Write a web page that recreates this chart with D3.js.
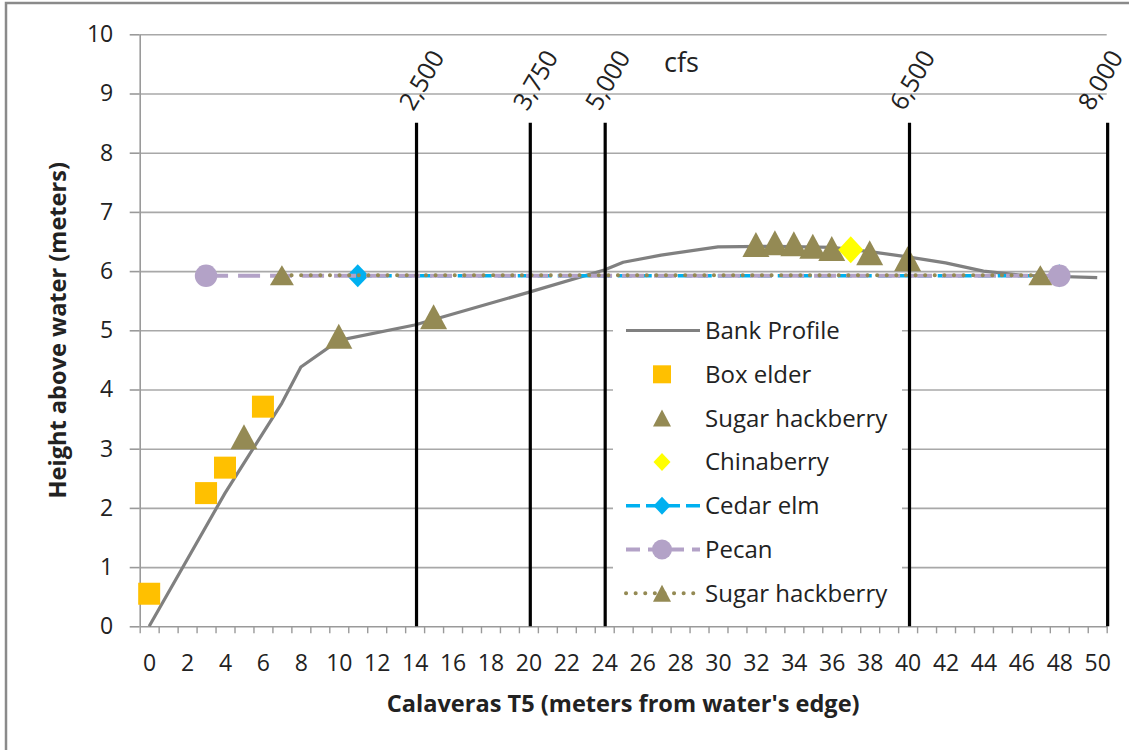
<!DOCTYPE html>
<html><head><meta charset="utf-8">
<script src="https://cdn.jsdelivr.net/npm/d3@7"></script>
<style>
body{margin:0;background:#fff}
svg{display:block}
text{font-family:"Open Sans",sans-serif;fill:#222}
</style>
</head><body>
<svg id="c" width="1129" height="750"></svg>
<script>
// ---------------- data ----------------
const bankX = [0, 4, 7, 8, 10, 14, 20, 24, 25, 27, 30, 33, 36, 38, 40, 42, 44, 46, 50];
const bankY = [0, 2.25, 3.77, 4.38, 4.83, 5.09, 5.64, 6.02, 6.15, 6.27, 6.41, 6.42, 6.4, 6.33, 6.24, 6.14, 6.0, 5.93, 5.89];
const boxElderX = [0, 3, 4, 6];
const boxElderY = [0.55, 2.25, 2.68, 3.71];
const hackberryX = [5, 10, 15, 32, 33, 34, 35, 36, 38, 40];
const hackberryY = [3.2, 4.9, 5.23, 6.45, 6.48, 6.46, 6.42, 6.38, 6.31, 6.21];
const chinaberryX = [37];
const chinaberryY = [6.36];
const cedarElmX = [11, 48];
const cedarElmY = [5.92, 5.92];
const pecanX = [3, 48];
const pecanY = [5.92, 5.92];
const hackberry2X = [7, 47];
const hackberry2Y = [5.93, 5.93];
const flowX = [14.1, 20.1, 24.05, 40.1, 50.55];
const flowLabels = ["2,500", "3,750", "5,000", "6,500", "8,000"];
const flowUnit = "cfs";
const yTicks = [0, 1, 2, 3, 4, 5, 6, 7, 8, 9, 10];
const xTickLabels = d3.range(0, 51, 2);
const legendNames = ["Bank Profile", "Box elder", "Sugar hackberry", "Chinaberry", "Cedar elm", "Pecan", "Sugar hackberry"];
const xTitle = "Calaveras T5 (meters from water's edge)";
const yTitle = "Height above water (meters)";

// ---------------- drawing ----------------
const svg = d3.select("#c");
const zip = (a, b) => a.map((v, i) => [v, b[i]]);

svg.append("rect").attr("x", 0).attr("y", 0).attr("width", 1129).attr("height", 750).attr("fill", "#fff");
svg.append("rect").attr("x", 6).attr("y", 3).attr("width", 1300).attr("height", 900)
  .attr("fill", "none").attr("stroke", "#8a8a8a").attr("stroke-width", 2.5);

const L = 139.7, R = 1106.7, T = 34.3, B = 626.3;
const x = d3.scaleLinear().domain([-0.5, 50.5]).range([L, R]);
const y = d3.scaleLinear().domain([0, 10]).range([B, T]);

const C = {
  bank: "#808080", box: "#FFC000", hack: "#948A54", china: "#FFFF00",
  cedar: "#00B0F0", pecan: "#B3A2C7", grid: "#A8A8A8", axis: "#9a9a9a"
};

// gridlines
const grid = svg.append("g").attr("transform", `translate(${L},0)`)
  .call(d3.axisLeft(y).tickValues(yTicks.slice(1)).tickSize(-(R - L)).tickFormat(""));
grid.select(".domain").remove();
grid.selectAll("line").attr("stroke", C.grid).attr("stroke-width", 1.6);

// y axis
const ya = svg.append("g").attr("transform", `translate(${L},0)`)
  .call(d3.axisLeft(y).tickValues(yTicks).tickSize(10).tickPadding(16.5).tickSizeOuter(0));
ya.select(".domain").attr("stroke", C.axis).attr("stroke-width", 1.6);
ya.selectAll("line").attr("stroke", C.axis).attr("stroke-width", 1.6);
ya.selectAll("text").attr("font-size", 23).attr("font-family", "Open Sans").attr("fill", "#1a1a1a");

// x axis (minor ticks at category boundaries)
const xa = svg.append("g").attr("transform", `translate(0,${B})`)
  .call(d3.axisBottom(x).tickValues(d3.range(-0.5, 50.6, 1)).tickSize(7).tickFormat("").tickSizeOuter(0));
xa.select(".domain").attr("stroke", C.axis).attr("stroke-width", 1.6);
xa.selectAll("line").attr("stroke", C.axis).attr("stroke-width", 1.4);

const xl = svg.append("g").attr("transform", `translate(0,${B})`)
  .call(d3.axisBottom(x).tickValues(xTickLabels).tickSize(0).tickFormat(d3.format("d")));
xl.select(".domain").remove();
xl.selectAll("text").attr("font-size", 23).attr("font-family", "Open Sans").attr("fill", "#1a1a1a")
  .attr("y", 44.5).attr("dy", null);

// titles
const xt = svg.append("text").attr("x", (L + R) / 2).attr("y", 712).attr("text-anchor", "middle")
  .attr("font-weight", "bold").attr("font-size", 20).attr("fill", "#111").text(xTitle);
let w = xt.node().getComputedTextLength();
const tfs = 20 * 473 / w;
xt.attr("font-size", tfs);
svg.append("text").attr("transform", `translate(66,${(T + B) / 2}) rotate(-90)`).attr("text-anchor", "middle")
  .attr("font-weight", "bold").attr("font-size", tfs).attr("fill", "#111").text(yTitle);

// marker shapes
function shapePath(type, w, h) {
  if (type === "square") return `M${-w/2},${-h/2}h${w}v${h}h${-w}Z`;
  if (type === "triangle") return `M0,${-h/2}L${w/2},${h/2}L${-w/2},${h/2}Z`;
  if (type === "diamond") return `M0,${-h/2}L${w/2},0L0,${h/2}L${-w/2},0Z`;
  if (type === "circle") return d3.arc()({innerRadius: 0, outerRadius: w / 2, startAngle: 0, endAngle: 2 * Math.PI});
}
function markers(g, pts, type, w, h, fill) {
  g.selectAll(null).data(pts).join("path")
    .attr("transform", d => `translate(${x(d[0])},${y(d[1])})`)
    .attr("d", shapePath(type, w, h)).attr("fill", fill);
}

const line = d3.line().x(d => x(d[0])).y(d => y(d[1]));
const plot = svg.append("g");

// Bank profile
plot.append("path").datum(zip(bankX, bankY)).attr("d", line)
  .attr("fill", "none").attr("stroke", C.bank).attr("stroke-width", 3.2).attr("stroke-linejoin", "round");
// Box elder
markers(plot.append("g"), zip(boxElderX, boxElderY), "square", 22, 22, C.box);
// Sugar hackberry scatter
markers(plot.append("g"), zip(hackberryX, hackberryY), "triangle", 27, 25, C.hack);
// Chinaberry
markers(plot.append("g"), zip(chinaberryX, chinaberryY), "diamond", 25, 27, C.china);
// Cedar elm
plot.append("path").datum(zip(cedarElmX, cedarElmY)).attr("d", line)
  .attr("fill", "none").attr("stroke", C.cedar).attr("stroke-width", 3.5).attr("stroke-dasharray", "14,6");
markers(plot.append("g"), zip(cedarElmX, cedarElmY), "diamond", 22, 23, C.cedar);
// Pecan
plot.append("path").datum(zip(pecanX, pecanY)).attr("d", line)
  .attr("fill", "none").attr("stroke", C.pecan).attr("stroke-width", 4).attr("stroke-dasharray", "22,10");
markers(plot.append("g"), zip(pecanX, pecanY), "circle", 22.5, 22.5, C.pecan);
// Sugar hackberry (line)
plot.append("path").datum(zip(hackberry2X, hackberry2Y)).attr("d", line)
  .attr("fill", "none").attr("stroke", C.hack).attr("stroke-width", 4).attr("stroke-linecap", "round")
  .attr("stroke-dasharray", "0.1,9.5");
markers(plot.append("g"), zip(hackberry2X, hackberry2Y), "triangle", 24, 20, C.hack);

// flow lines
const flowDx = [-3.2, -3.1, -5.8, -5.5, -15.5];
const fg = svg.append("g");
fg.selectAll("line").data(flowX).join("line")
  .attr("x1", d => x(d)).attr("x2", d => x(d)).attr("y1", 122.7).attr("y2", B)
  .attr("stroke", "#000").attr("stroke-width", 3.2);
fg.selectAll("text").data(flowX).join("text")
  .attr("transform", (d, i) => `translate(${x(d) + flowDx[i]},112) rotate(-60)`)
  .attr("font-size", 25).attr("fill", "#111").text((d, i) => flowLabels[i]);
svg.append("text").attr("x", 664).attr("y", 72).attr("font-family", "Liberation Serif")
  .attr("font-size", 27).attr("fill", "#111").text(flowUnit);

// legend
const lg = svg.append("g");
lg.append("rect").attr("x", 613).attr("y", 308).attr("width", 289).attr("height", 307).attr("fill", "#fff");
const ly0 = 330.5, ldy = 43.8, sx = 662;
const legendDefs = [
  {line: C.bank, dash: null, lw: 3.2, mk: null},
  {line: null, mk: "square", mw: 18, mh: 18, fill: C.box},
  {line: null, mk: "triangle", mw: 18, mh: 17, fill: C.hack},
  {line: null, mk: "diamond", mw: 17, mh: 18, fill: C.china},
  {line: C.cedar, dash: "14,6", lw: 3.5, mk: "diamond", mw: 17, mh: 18, fill: C.cedar},
  {line: C.pecan, dash: "14,8", lw: 4, mk: "circle", mw: 20, mh: 20, fill: C.pecan},
  {line: C.hack, dash: "0.1,9.5", lw: 4, cap: "round", mk: "triangle", mw: 18, mh: 17, fill: C.hack}
];
legendDefs.forEach((d, i) => {
  const yy = ly0 + i * ldy;
  if (d.line) {
    lg.append("line").attr("x1", 626).attr("x2", 700).attr("y1", yy).attr("y2", yy)
      .attr("stroke", d.line).attr("stroke-width", d.lw)
      .attr("stroke-dasharray", d.dash).attr("stroke-linecap", d.cap || "butt");
  }
  if (d.mk) {
    lg.append("path").attr("transform", `translate(${sx},${yy})`).attr("d", shapePath(d.mk, d.mw, d.mh)).attr("fill", d.fill);
  }
  lg.append("text").attr("x", 705).attr("y", yy).attr("dy", "0.35em").attr("font-size", 24).text(legendNames[i]);
});
</script>
</body></html>
